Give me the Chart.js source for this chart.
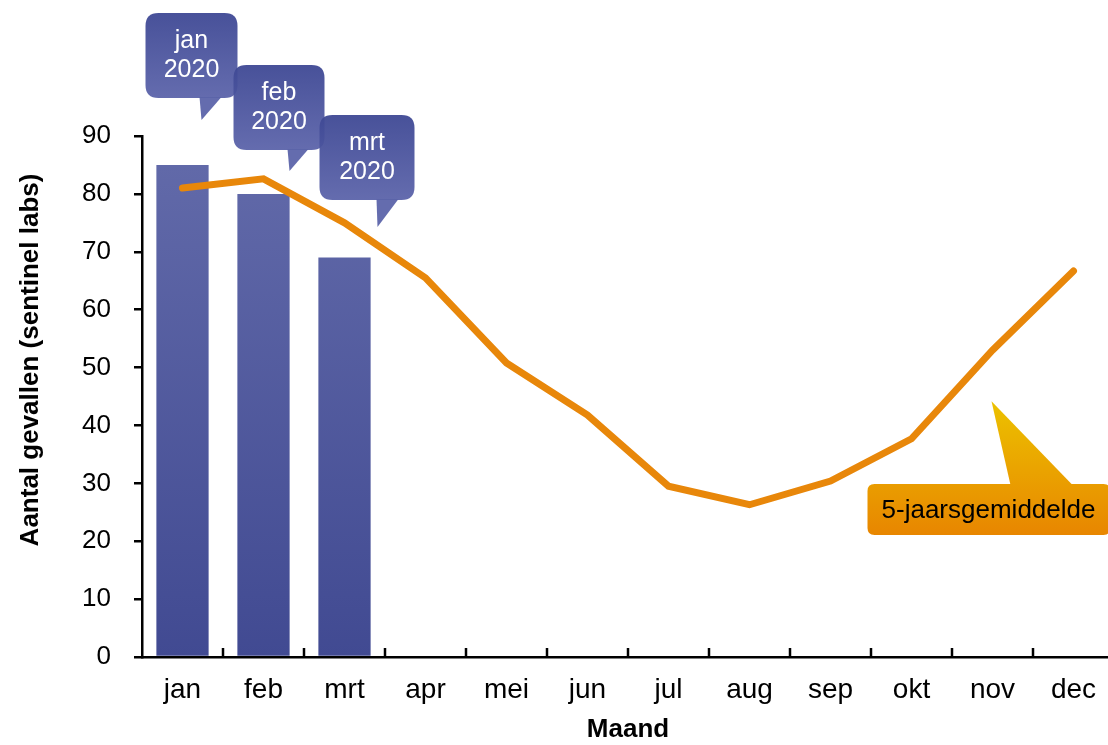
<!DOCTYPE html>
<html>
<head>
<meta charset="utf-8">
<script src="https://cdn.jsdelivr.net/npm/chart.js@4/dist/chart.umd.min.js"></script>
<style>
    html, body { margin: 0; padding: 0; background: #fff; overflow: hidden; }
    #wrap { width: 1114px; height: 745px; }
</style>
</head>
<body>
<div id="wrap"><canvas id="chart" width="1114" height="745"></canvas></div>
<script>
// data
const months = ['jan', 'feb', 'mrt', 'apr', 'mei', 'jun', 'jul', 'aug', 'sep', 'okt', 'nov', 'dec'];
const cases2020 = [85, 80, 69, null, null, null, null, null, null, null, null, null];
const fiveYearAvg = [81.0, 82.6, 75.0, 65.5, 50.8, 41.8, 29.5, 26.3, 30.4, 37.7, 53.0, 66.7];
const yTicks = [0, 10, 20, 30, 40, 50, 60, 70, 80, 90];

const calloutLabels = [['jan', '2020'], ['feb', '2020'], ['mrt', '2020']];
const avgLabel = '5-jaarsgemiddelde';
const yTitle = 'Aantal gevallen (sentinel labs)';

const FONT = "'Liberation Sans', Arial, sans-serif";

// speech bubbles above the bars (placed relative to category centre)
const bubbles = [
    { idx: 0, dx: -37, top: 13, w: 92, h: 85, tail: [17, 19, 39], tailLen: 22 },
    { idx: 1, dx: -30, top: 65, w: 91, h: 85, tail: [24, 26, 45], tailLen: 21 },
    { idx: 2, dx: -25, top: 115, w: 95, h: 85, tail: [32, 33, 54], tailLen: 27 }
];

function roundRect(ctx, x, y, w, h, r) {
    ctx.beginPath();
    ctx.moveTo(x + r, y);
    ctx.lineTo(x + w - r, y);
    ctx.quadraticCurveTo(x + w, y, x + w, y + r);
    ctx.lineTo(x + w, y + h - r);
    ctx.quadraticCurveTo(x + w, y + h, x + w - r, y + h);
    ctx.lineTo(x + r, y + h);
    ctx.quadraticCurveTo(x, y + h, x, y + h - r);
    ctx.lineTo(x, y + r);
    ctx.quadraticCurveTo(x, y, x + r, y);
    ctx.closePath();
}

const decorPlugin = {
    id: 'decor',
    afterDraw(chart) {
        const ctx = chart.ctx;
        const xs = chart.scales.x;
        const ys = chart.scales.y;
        const step = xs.getPixelForValue(1) - xs.getPixelForValue(0);

        // inward tick marks between categories
        ctx.save();
        ctx.strokeStyle = '#000';
        ctx.lineWidth = 2.5;
        for (let i = 0; i < months.length; i++) {
            const x = Math.round(xs.getPixelForValue(i) + step / 2);
            ctx.beginPath();
            ctx.moveTo(x, ys.bottom);
            ctx.lineTo(x, ys.bottom - 9);
            ctx.stroke();
        }
        ctx.restore();

        // y axis title (sits a bit above the axis centre in the original)
        ctx.save();
        ctx.translate(31, 360);
        ctx.rotate(-Math.PI / 2);
        ctx.fillStyle = '#000';
        ctx.font = 'bold 26px ' + FONT;
        ctx.textAlign = 'center';
        ctx.textBaseline = 'middle';
        ctx.fillText(yTitle, 0, 0);
        ctx.restore();

        // blue bubbles
        bubbles.forEach((b, k) => {
            const cx = xs.getPixelForValue(b.idx);
            const left = cx + b.dx;
            const bottom = b.top + b.h;
            const g = ctx.createLinearGradient(0, b.top, 0, bottom);
            g.addColorStop(0, 'rgba(62,72,148,0.95)');
            g.addColorStop(1, 'rgba(92,100,170,0.95)');
            ctx.save();
            ctx.fillStyle = g;
            roundRect(ctx, left, b.top, b.w, b.h, 13);
            ctx.fill();
            ctx.beginPath();
            ctx.moveTo(cx + b.tail[0], bottom - 1);
            ctx.lineTo(cx + b.tail[1], bottom + b.tailLen);
            ctx.lineTo(cx + b.tail[2], bottom - 1);
            ctx.closePath();
            ctx.fillStyle = 'rgba(92,100,170,0.95)';
            ctx.fill();
            ctx.fillStyle = '#fff';
            ctx.font = '25px ' + FONT;
            ctx.textAlign = 'center';
            ctx.textBaseline = 'middle';
            const mid = b.top + b.h / 2;
            ctx.fillText(calloutLabels[k][0], left + b.w / 2, mid - 14);
            ctx.fillText(calloutLabels[k][1], left + b.w / 2, mid + 15);
            ctx.restore();
        });

        // orange label for the 5-year average, pointing at nov
        const nx = xs.getPixelForValue(10);
        const tipY = ys.getPixelForValue(44.2);
        const bx = nx - 125, by = 484, bw = 243, bh = 51;
        ctx.save();
        const og = ctx.createLinearGradient(0, tipY, 0, by + bh);
        og.addColorStop(0, '#ecc200');
        og.addColorStop(1, '#e88600');
        ctx.fillStyle = og;
        roundRect(ctx, bx, by, bw, bh, 7);
        ctx.fill();
        ctx.beginPath();
        ctx.moveTo(nx + 18, by + 1);
        ctx.lineTo(nx - 1, tipY);
        ctx.lineTo(nx + 80, by + 1);
        ctx.closePath();
        ctx.fill();
        ctx.fillStyle = '#000';
        ctx.font = '26px ' + FONT;
        ctx.textAlign = 'center';
        ctx.textBaseline = 'middle';
        ctx.fillText(avgLabel, bx + 121, by + bh / 2 + 1);
        ctx.restore();
    }
};

const ctx = document.getElementById('chart').getContext('2d');

function barGradient(context) {
    const area = context.chart.chartArea;
    if (!area) return '#4b5399';
    const g = context.chart.ctx.createLinearGradient(0, area.top, 0, area.bottom);
    g.addColorStop(0, '#636baa');
    g.addColorStop(1, '#414a92');
    return g;
}

new Chart(ctx, {
    data: {
        labels: months,
        datasets: [
            {
                type: 'line',
                data: fiveYearAvg,
                borderColor: '#e8870a',
                borderWidth: 7,
                borderCapStyle: 'round',
                borderJoinStyle: 'miter',
                pointRadius: 0,
                tension: 0,
                order: 1
            },
            {
                type: 'bar',
                data: cases2020,
                backgroundColor: barGradient,
                borderWidth: 0,
                categoryPercentage: 1,
                barPercentage: 0.645,
                order: 2
            }
        ]
    },
    options: {
        responsive: false,
        animation: false,
        layout: { padding: { top: 136, left: 0, right: 0, bottom: 0 } },
        plugins: {
            legend: { display: false },
            tooltip: { enabled: false }
        },
        scales: {
            x: {
                offset: true,
                grid: { display: false, offset: true },
                border: { display: true, color: '#000', width: 2.5 },
                ticks: {
                    color: '#000',
                    padding: 8,
                    font: { family: FONT, size: 28 }
                },
                title: {
                    display: true,
                    text: 'Maand',
                    color: '#000',
                    font: { family: FONT, size: 26, weight: 'bold' },
                    padding: { top: 0, bottom: 0 }
                },
                afterFit(scale) { scale.height = 88; }
            },
            y: {
                min: 0,
                max: 90,
                afterBuildTicks(scale) {
                    scale.ticks = yTicks.map(v => ({ value: v }));
                },
                grid: {
                    drawOnChartArea: false,
                    drawTicks: true,
                    tickLength: 8,
                    color: '#000',
                    lineWidth: 2.5
                },
                border: { display: true, color: '#000', width: 2.5 },
                ticks: {
                    color: '#000',
                    padding: 23,
                    font: { family: FONT, size: 26 }
                },
                title: { display: false },
                afterFit(scale) { scale.width = 142; }
            }
        }
    },
    plugins: [decorPlugin]
});
</script>
</body>
</html>
